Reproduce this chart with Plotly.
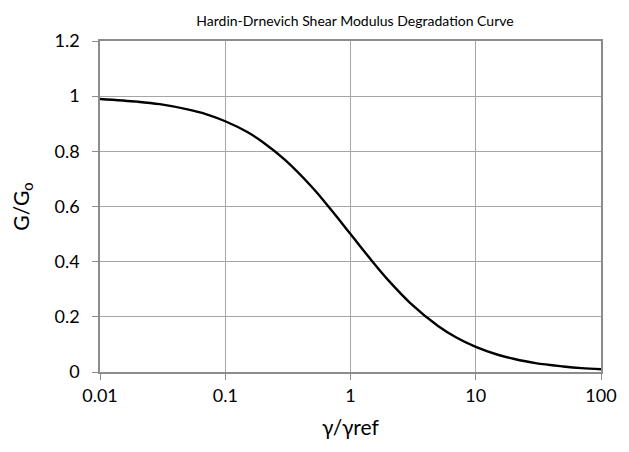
import plotly.graph_objects as go

strain_ratio = [0.01, 0.02, 0.03, 0.05, 0.07, 0.1, 0.15, 0.2, 0.3, 0.5, 0.7, 1,
                1.5, 2, 3, 5, 7, 10, 15, 20, 30, 50, 70, 100]
modulus_ratio = [0.99, 0.98, 0.971, 0.952, 0.935, 0.909, 0.87, 0.833, 0.769, 0.667, 0.588, 0.5,
                 0.4, 0.333, 0.25, 0.167, 0.125, 0.091, 0.0625, 0.048, 0.032, 0.02, 0.014, 0.01]
x_ticks = [0.01, 0.1, 1, 10, 100]
x_tick_labels = ["0.01", "0.1", "1", "10", "100"]
y_ticks = [0, 0.2, 0.4, 0.6, 0.8, 1, 1.2]
y_tick_labels = ["0", "0.2", "0.4", "0.6", "0.8", "1", "1.2"]

FONT = "Lato, 'Open Sans', sans-serif"

fig = go.Figure()
fig.add_trace(go.Scatter(
    x=strain_ratio, y=modulus_ratio, mode="lines",
    line=dict(color="black", width=2.4, shape="spline"),
    showlegend=False,
))

# page body adds an 8px offset, so the figure is drawn 8px smaller
fig.update_layout(
    width=621, height=444,
    margin=dict(l=91, r=23, t=33, b=80),
    paper_bgcolor="white", plot_bgcolor="white",
    font=dict(family=FONT, color="black"),
    title=dict(text="Hardin-Drnevich Shear Modulus Degradation Curve",
               x=0.5588, xanchor="center", y=0.971, yanchor="middle",
               font=dict(size=14, family=FONT, color="black")),
    xaxis=dict(
        type="log", range=[-2, 2],
        tickvals=x_ticks, ticktext=x_tick_labels,
        showgrid=True, gridcolor="#a6a6a6", gridwidth=1,
        showline=True, linecolor="#8c8c8c", linewidth=1.5, mirror=True,
        ticks="outside", ticklen=6, tickcolor="#8c8c8c",
        ticklabelstandoff=1,
        tickfont=dict(size=18, family=FONT),
        title=dict(text="γ/γref", font=dict(size=21, family=FONT), standoff=15),
        zeroline=False,
    ),
    yaxis=dict(
        range=[0, 1.2],
        tickvals=y_ticks, ticktext=y_tick_labels,
        showgrid=True, gridcolor="#a6a6a6", gridwidth=1,
        showline=True, linecolor="#8c8c8c", linewidth=1.5, mirror=True,
        ticks="outside", ticklen=6, tickcolor="#8c8c8c",
        ticklabelstandoff=9,
        tickfont=dict(size=18, family=FONT),
        title=dict(text="G/G<sub>o</sub>", font=dict(size=21, family=FONT), standoff=20),
        zeroline=False,
    ),
)

fig.write_html("out.html")
